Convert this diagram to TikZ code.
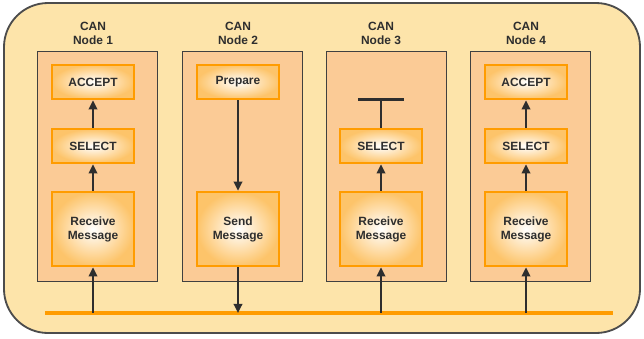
\documentclass[tikz,border=0pt]{standalone}
\usepackage{fontspec}
\setmainfont{Liberation Sans}
\usetikzlibrary{arrows.meta}

\definecolor{bgyellow}{HTML}{FDE4AA}
\definecolor{panelpeach}{HTML}{FBCB96}
\definecolor{busorange}{HTML}{FF9C00}
\definecolor{boxedge}{HTML}{FDC46A}
\definecolor{inkgray}{HTML}{2E2E2E}

\tikzset{
	panel/.style={draw=black!75, fill=panelpeach, line width=0.5pt},
	msgbox/.style={draw=busorange, line width=1.8pt, inner color=white, outer color=boxedge,
		minimum width=2.05cm, text=inkgray, font=\bfseries\fontsize{8.5}{10}\selectfont, align=center},
	smallbox/.style={msgbox, minimum height=0.85cm},
	bigbox/.style={msgbox, minimum height=1.85cm},
	title/.style={align=center, text=inkgray, font=\bfseries\fontsize{8.5}{10}\selectfont},
	sig/.style={draw=inkgray, line width=2pt, -{Triangle[length=6.5pt, width=6pt]}},
}

\begin{document}
\begin{tikzpicture}[x=0.025cm, y=-0.025cm]
		%%%%% START %%%%%
		\useasboundingbox (0, 0) rectangle (644, 338);
		
		\draw[fill=bgyellow, draw=black!70, line width=1.3pt, rounded corners=1.1cm] (4, 3) rectangle (640, 333);
		
		% the four nodes
		\draw[panel] (37, 51) rectangle (157, 281);
		\draw[panel] (182, 51) rectangle (302, 281);
		\draw[panel] (326, 51) rectangle (446, 281);
		\draw[panel] (470, 51) rectangle (590, 281);
		
		\node[title] (t1) at (93, 33) {CAN\\Node 1};
		\node[title] (t2) at (238, 33) {CAN\\Node 2};
		\node[title] (t3) at (381, 33) {CAN\\Node 3};
		\node[title] (t4) at (526, 33) {CAN\\Node 4};
		
		% bus
		\draw[busorange, line width=2.4pt] (45, 313) -- (613, 313);
		\coordinate (b1) at (93, 313);
		\coordinate (b2) at (238, 313);
		\coordinate (b3) at (381, 313);
		\coordinate (b4) at (526, 313);
		
		% node 1
		\node[smallbox] (acc1) at (93, 82) {ACCEPT};
		\node[smallbox] (sel1) at (93, 146) {SELECT};
		\node[bigbox] (rcv1) at (93, 229) {Receive\\Message};
		\draw[sig] (b1) -- (rcv1.south);
		\draw[sig] (rcv1.north) -- (sel1.south);
		\draw[sig] (sel1.north) -- (acc1.south);
		
		% node 2
		\node[smallbox] (prep2) at (238, 82) {Prepare};
		\node[bigbox] (snd2) at (238, 229) {Send\\Message};
		\draw[sig] (prep2.south) -- (snd2.north);
		\draw[sig] (snd2.south) -- (b2);
		
		% node 3
		\node[smallbox] (sel3) at (381, 146) {SELECT};
		\node[bigbox] (rcv3) at (381, 229) {Receive\\Message};
		\coordinate (stop3) at (381, 98);
		\draw[sig] (b3) -- (rcv3.south);
		\draw[sig] (rcv3.north) -- (sel3.south);
		\draw[draw=inkgray, line width=2pt, -{Bar[width=33pt]}] (sel3.north) -- (stop3);
		
		% node 4
		\node[smallbox] (acc4) at (526, 82) {ACCEPT};
		\node[smallbox] (sel4) at (526, 146) {SELECT};
		\node[bigbox] (rcv4) at (526, 229) {Receive\\Message};
		\draw[sig] (b4) -- (rcv4.south);
		\draw[sig] (rcv4.north) -- (sel4.south);
		\draw[sig] (sel4.north) -- (acc4.south);
		
		%%%%% END %%%%%
	\end{tikzpicture}
\end{document}
